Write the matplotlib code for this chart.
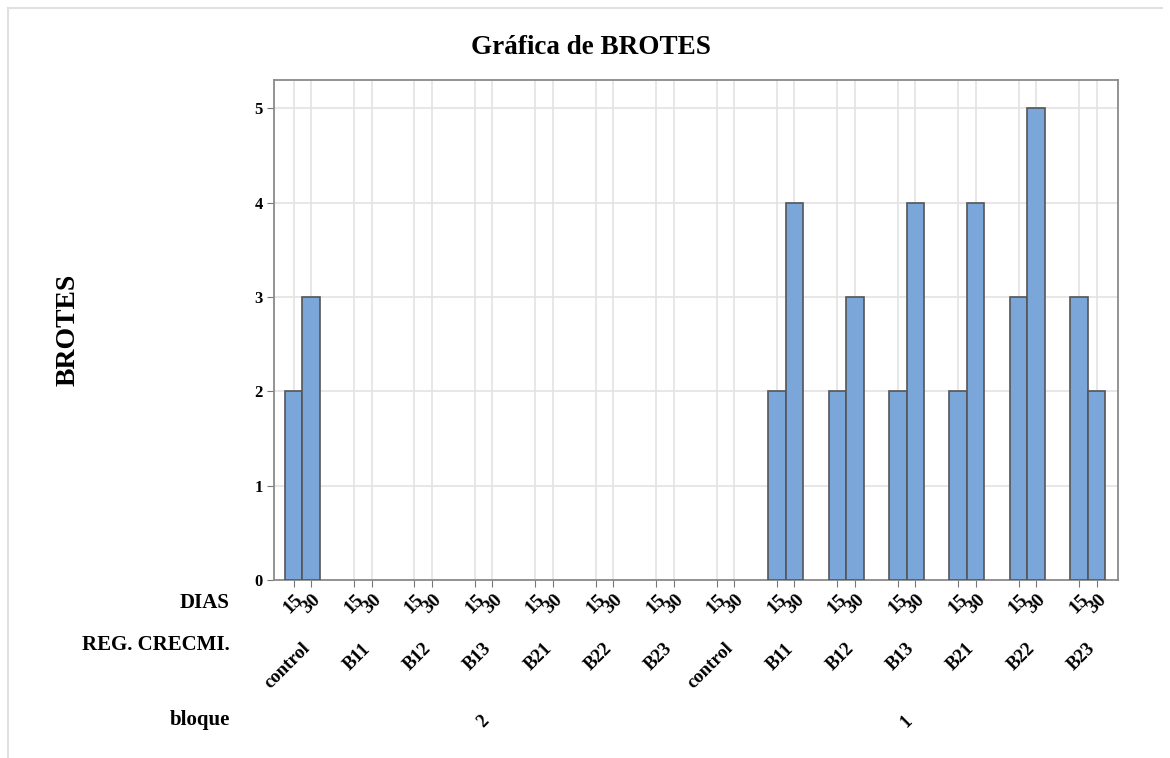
import numpy as np
import matplotlib.pyplot as plt
from matplotlib.lines import Line2D

# datos
bloques = ["2", "1"]
reguladores = ["control", "B11", "B12", "B13", "B21", "B22", "B23"]
dias = ["15", "30"]
brotes_b2_15 = [2, 0, 0, 0, 0, 0, 0]
brotes_b2_30 = [3, 0, 0, 0, 0, 0, 0]
brotes_b1_15 = [0, 2, 2, 2, 2, 3, 3]
brotes_b1_30 = [0, 4, 3, 4, 4, 5, 2]

plt.rcParams['font.family'] = ['Liberation Serif', 'DejaVu Serif']
plt.rcParams['font.weight'] = 'bold'

fig = plt.figure(figsize=(11.7, 7.58), dpi=100)
W, H = 1170, 758
ax = fig.add_axes([274 / W, 1 - 580 / H, (1118 - 274) / W, (580 - 80) / H])

n_reg = len(reguladores)
centros = np.arange(len(bloques) * n_reg)
d = 0.145
ancho = 0.29
v15 = np.array(brotes_b2_15 + brotes_b1_15)
v30 = np.array(brotes_b2_30 + brotes_b1_30)

color = "#7BA6D9"
borde = "#555555"
m15 = v15 > 0
m30 = v30 > 0
ax.bar(centros[m15] - d, v15[m15], width=ancho, color=color, edgecolor=borde, linewidth=1.2, zorder=3)
ax.bar(centros[m30] + d, v30[m30], width=ancho, color=color, edgecolor=borde, linewidth=1.2, zorder=3)

pos = np.sort(np.concatenate([centros - d, centros + d]))
etq = dias * len(centros)
ax.set_xticks(pos)
ax.set_xticklabels(etq, rotation=45, ha="center", va="top", fontsize=14, fontweight="bold")
ax.tick_params(axis="x", length=5, pad=3, color="#777777")
ax.set_xlim(-0.47, 13.5)

ax.set_ylim(0, 5.3)
ax.set_yticks(range(6))
ax.set_yticklabels([str(i) for i in range(6)], fontsize=12, fontweight="bold")
ax.tick_params(axis="y", length=5, pad=3, color="#777777")

ax.grid(True, color="#e3e3e3", linewidth=1.2, zorder=0)
ax.set_axisbelow(True)
for s in ax.spines.values():
    s.set_color("#8a8a8a")
    s.set_linewidth(1.3)

# etiquetas de reguladores
for i, c in enumerate(centros):
    ax.annotate(reguladores[i % n_reg], xy=(c, 0), xycoords=("data", "axes fraction"),
                xytext=(11, -60), textcoords="offset pixels",
                rotation=45, ha="right", va="top", fontsize=13.5, fontweight="bold")

# etiquetas de bloque
for j, b in enumerate(bloques):
    cb = centros[j * n_reg:(j + 1) * n_reg].mean()
    ax.annotate(b, xy=(cb, 0), xycoords=("data", "axes fraction"),
                xytext=(0, -142), textcoords="offset pixels",
                rotation=45, ha="center", va="center", fontsize=13, fontweight="bold")

fig.text(230 / W, 1 - 603 / H, "DIAS", ha="right", va="center", fontsize=15, fontweight="bold")
fig.text(230 / W, 1 - 645 / H, "REG. CRECMI.", ha="right", va="center", fontsize=15, fontweight="bold")
fig.text(230 / W, 1 - 720 / H, "bloque", ha="right", va="center", fontsize=15, fontweight="bold")

fig.text(68 / W, 1 - 330 / H, "BROTES", rotation=90, ha="center", va="center",
         fontsize=20, fontweight="bold")
fig.text(591 / W, 1 - 47 / H, "Gráfica de BROTES", ha="center", va="center",
         fontsize=19.5, fontweight="bold")

# marco exterior
fig.add_artist(Line2D([8 / W, 1162 / W], [1 - 8 / H, 1 - 8 / H], color="#e0e0e0", linewidth=1.5))
fig.add_artist(Line2D([8 / W, 8 / W], [0, 1 - 8 / H], color="#e0e0e0", linewidth=1.5))

fig.savefig("out.png", dpi=100)
